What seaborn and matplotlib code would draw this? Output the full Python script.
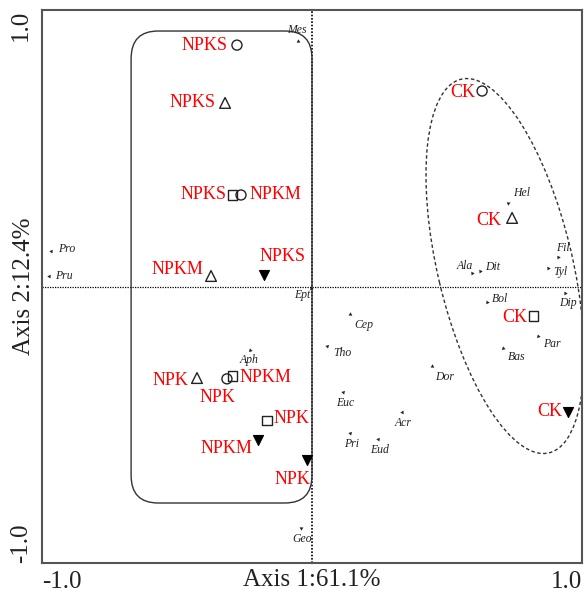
import numpy as np
import pandas as pd
import seaborn as sns
import matplotlib.pyplot as plt
from matplotlib.patches import FancyBboxPatch, Ellipse

# sample scores (treatment + sampling symbol)
sample_trt = ['NPKS', 'NPKS', 'NPKS', 'NPKM', 'NPKM', 'NPKS',
              'CK', 'CK', 'CK', 'CK',
              'NPK', 'NPK', 'NPKM', 'NPK', 'NPKM', 'NPK']
sample_shape = ['circle', 'triangle', 'square', 'circle', 'triangle', 'filled',
                'circle', 'triangle', 'square', 'filled',
                'triangle', 'circle', 'square', 'square', 'filled', 'filled']
sample_x = [-0.278, -0.322, -0.293, -0.263, -0.374, -0.178,
            0.630, 0.741, 0.819, 0.948,
            -0.426, -0.315, -0.293, -0.167, -0.200, -0.018]
sample_y = [0.873, 0.664, 0.331, 0.331, 0.038, 0.042,
            0.707, 0.248, -0.107, -0.454,
            -0.331, -0.334, -0.324, -0.486, -0.555, -0.627]

# species scores
species = ['Mes', 'Pro', 'Pru', 'Ept', 'Hel', 'Ala', 'Dit', 'Fil', 'Tyl', 'Dip', 'Bol',
           'Par', 'Bas', 'Cep', 'Tho', 'Dor', 'Euc', 'Acr', 'Pri', 'Eud', 'Geo', 'Aph']
species_x = [-0.052, -0.967, -0.974, -0.004, 0.726, 0.593, 0.622, 0.911, 0.874, 0.937, 0.648,
             0.837, 0.707, 0.141, 0.056, 0.444, 0.115, 0.333, 0.141, 0.244, -0.041, -0.230]
species_y = [0.888, 0.128, 0.038, -0.004, 0.302, 0.049, 0.056, 0.107, 0.067, -0.024, -0.056,
             -0.179, -0.222, -0.099, -0.215, -0.288, -0.382, -0.454, -0.530, -0.552, -0.873, -0.230]

ticks = [-1.0, -0.5, 0.0, 0.5, 1.0]
tick_labels = ['-1.0', '', '', '', '1.0']

# label placement: (dx px, dy px, ha)
sample_off = [(-9, 0, 'right'), (-10, 0, 'right'), (-6, 0, 'right'), (9, 0, 'left'),
              (-8, -6, 'right'), (-4, -18, 'left'),
              (-7, 1, 'right'), (-11, 3, 'right'), (-6, 1, 'right'), (-6, -1, 'right'),
              (-9, 2, 'right'), (-9, 19, 'center'), (7, 1, 'left'), (7, -2, 'left'),
              (-6, 9, 'right'), (3, 20, 'right')]
species_off = [(-1, -11, 'center'), (7, -2, 'left'), (6, 0, 'left'), (-1, 7, 'right'),
               (5, -10, 'left'), (1, -7, 'right'), (5, -4, 'left'), (5, -9, 'center'),
               (5, 4, 'left'), (3, 10, 'center'), (5, -3, 'left'), (5, 8, 'left'),
               (5, 9, 'left'), (4, 11, 'left'), (6, 7, 'left'), (3, 11, 'left'),
               (2, 11, 'center'), (1, 11, 'center'), (1, 11, 'center'), (2, 11, 'center'),
               (1, 11, 'center'), (-1, 10, 'center')]

sns.set_style('white')
plt.rcParams['font.family'] = ['Liberation Serif', 'DejaVu Serif']

df = pd.DataFrame({'x': sample_x, 'y': sample_y, 'trt': sample_trt, 'shape': sample_shape})

fig = plt.figure(figsize=(5.85, 5.94), dpi=100)
ax = fig.add_axes([42 / 585, 31 / 594, 540 / 585, 553 / 594])

# zero lines
ax.axvline(0, color='black', lw=1.2, ls=(0, (1, 1)), zorder=1)
ax.axhline(0, color='black', lw=0.9, ls=(0, (1, 1)), zorder=1)

# group outlines
ax.add_patch(FancyBboxPatch((-0.67, -0.783), 0.67, 1.707,
                            boxstyle='round,pad=0,rounding_size=0.1',
                            fill=False, ec='#333333', lw=1.0, zorder=1))
ax.add_patch(Ellipse((0.715, 0.074), 1.39, 0.5, angle=-76.4,
                     fill=False, ec='#333333', lw=1.0, ls=(0, (2.5, 1.8)), zorder=1))

# sample symbols
marker_map = {'circle': ('o', 52), 'triangle': ('^', 60), 'square': ('s', 44), 'filled': ('v', 52)}
for shp, (m, s) in marker_map.items():
    sub = df[df['shape'] == shp]
    if shp == 'filled':
        sns.scatterplot(data=sub, x='x', y='y', marker=m, s=s, color='black',
                        edgecolor='black', linewidth=0.8, ax=ax, zorder=3)
    else:
        sns.scatterplot(data=sub, x='x', y='y', marker=m, s=s, facecolor='none',
                        edgecolor='#222222', linewidth=1.0, ax=ax, zorder=3)

for (x, y, t), (dx, dy, ha) in zip(zip(sample_x, sample_y, sample_trt), sample_off):
    ax.annotate(t, (x, y), xytext=(dx * 0.72, -dy * 0.72), textcoords='offset points',
                ha=ha, va='center', color='red', fontsize=13, zorder=4)

# species tips
for x, y in zip(species_x, species_y):
    ang = np.degrees(np.arctan2(y, x)) - 90
    ax.scatter([x], [y], marker=(3, 0, ang), s=10, color='#222222', lw=0, zorder=3)
for (x, y, n), (dx, dy, ha) in zip(zip(species_x, species_y, species), species_off):
    ax.annotate(n, (x, y), xytext=(dx * 0.72, -dy * 0.72), textcoords='offset points',
                ha=ha, va='center', color='#222222', fontsize=8.5, style='italic', zorder=4)

ax.set_xlim(-1, 1)
ax.set_ylim(-1, 1)
ax.set_xticks(ticks)
ax.set_xticklabels(tick_labels)
ax.set_yticks(ticks)
ax.set_yticklabels(tick_labels)
ax.tick_params(axis='x', direction='in', length=5, width=1, color='#444444',
               labelsize=18, labelcolor='#222222', pad=6)
ax.tick_params(axis='y', direction='inout', length=6, width=1, color='#444444',
               labelsize=18, labelcolor='#222222', pad=4)
xl = ax.get_xticklabels()
xl[0].set_ha('left')
xl[-1].set_ha('right')
for i, lab in enumerate(ax.get_yticklabels()):
    lab.set_rotation(90)
    lab.set_rotation_mode('default')
    lab.set_ha('right')
    lab.set_va('bottom' if i == 0 else 'top' if i == len(ticks) - 1 else 'center')

ax.set_xlabel('Axis 1:61.1%', fontsize=18, color='#222222', va='center')
ax.set_ylabel('Axis 2:12.4%', fontsize=18, color='#222222', va='center')
ax.xaxis.set_label_coords(0.5, -0.031)
ax.yaxis.set_label_coords(-0.033, 0.5)

for sp in ax.spines.values():
    sp.set_color('#555555')
    sp.set_linewidth(1.5)

plt.savefig('out.png', dpi=100)
